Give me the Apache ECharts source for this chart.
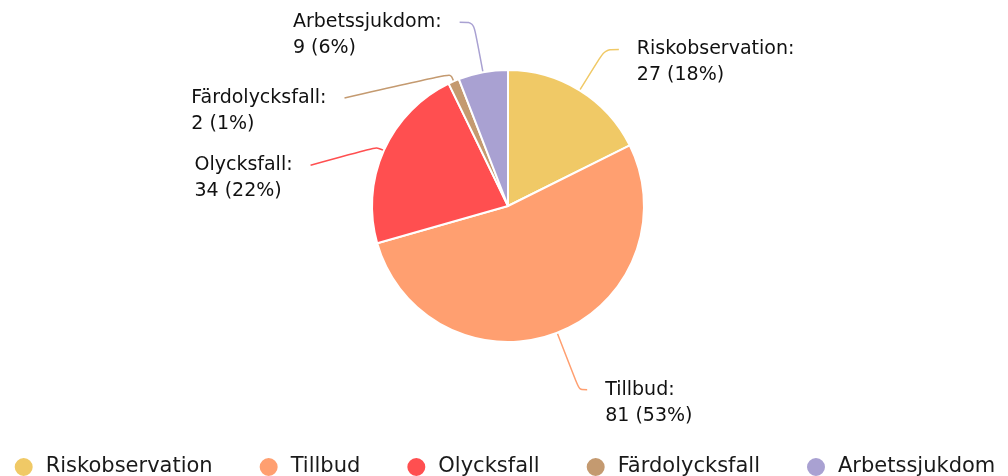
<!DOCTYPE html>
<html>
<head>
<meta charset="utf-8">
<script src="https://cdn.jsdelivr.net/npm/echarts@6/dist/echarts.min.js"></script>
<style>
  html, body { margin: 0; padding: 0; background: #fff; }
  #chart { width: 1008px; height: 476px; }
</style>
</head>
<body>
<div id="chart"></div>
<script>
// categories and values
const categories = ['Riskobservation', 'Tillbud', 'Olycksfall', 'Färdolycksfall', 'Arbetssjukdom'];
const counts = [27, 81, 34, 2, 9];
const colors = ['#F0C966', '#FF9F70', '#FF4F50', '#C49A70', '#A9A1D2'];

// connector lengths per slice: [radial part, horizontal part]
const connectorLengths = [[48, 14], [61, 8], [8, 66], [8, 106], [51, 14]];
// the crowded left labels are pushed down a little, like in the original
const labelDrops = [0, 0, 18, 24, 0];

const chart = echarts.init(document.getElementById('chart'));

chart.setOption({
    animation: false,
    color: colors,
    legend: {
        top: 451,
        left: 'center',
        icon: 'circle',
        itemWidth: 20,
        itemHeight: 20,
        itemGap: 45,
        textStyle: { fontFamily: 'DejaVu Sans', fontSize: 21, color: '#1a1a1a', padding: [0, 0, 0, 7] },
        data: categories,
    },
    series: [
        {
            type: 'pie',
            center: [508, 206],
            radius: 136,
            startAngle: 90,
            clockwise: true,
            percentPrecision: 0,
            itemStyle: { borderColor: '#fff', borderWidth: 2 },
            label: {
                show: true,
                // rich tokens aligned left so both lines start at the same x
                formatter: '{t|{b}:}\n{t|{c} ({d}%)}',
                distanceToLabelLine: 18,
                // top padding = one line, so the connector ends at the first line
                padding: [26, 0, 0, 0],
                rich: {
                    t: { align: 'left', fontFamily: 'DejaVu Sans', fontSize: 19, lineHeight: 26, color: '#111' },
                },
            },
            labelLine: { show: true, smooth: 0.3, lineStyle: { width: 1.5 } },
            labelLayout: (params) => {
                const drop = labelDrops[params.dataIndex];
                if (!drop || !params.labelLinePoints) return {};
                const pts = params.labelLinePoints.map((p) => p.slice());
                pts[2][1] += drop;
                return { dy: drop, labelLinePoints: pts };
            },
            data: categories.map((name, i) => ({
                name,
                value: counts[i],
                labelLine: { length: connectorLengths[i][0], length2: connectorLengths[i][1] },
            })),
        },
    ],
});
</script>
</body>
</html>
